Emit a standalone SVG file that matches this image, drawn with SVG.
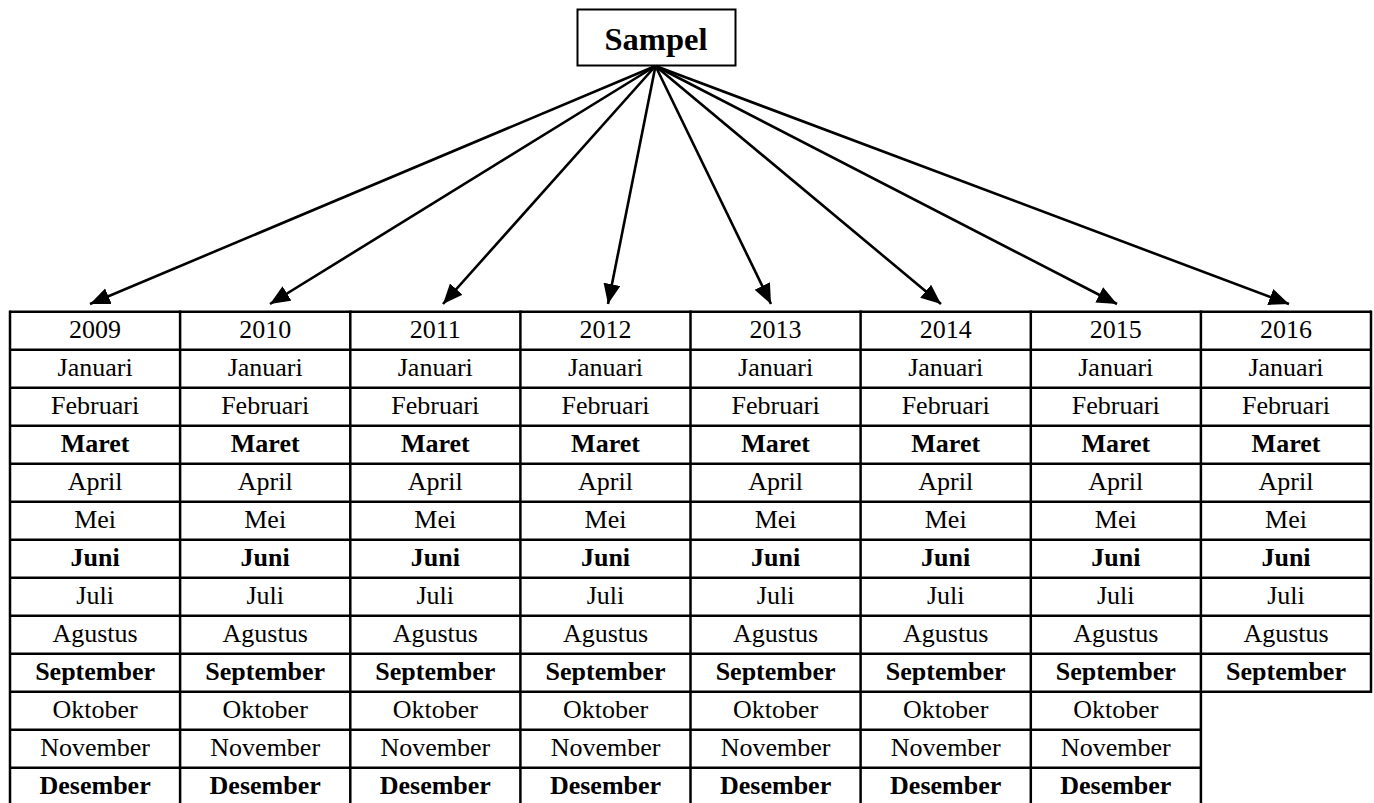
<svg xmlns="http://www.w3.org/2000/svg" width="1374" height="803" viewBox="0 0 1374 803">
<style>
.t{font-family:"Liberation Serif","Times New Roman",serif;font-size:26px;fill:#000;text-anchor:middle}
.b{font-weight:bold}
.ln{stroke:#000;stroke-width:2.5;fill:none}
.ar{stroke:#000;stroke-width:2.6;fill:none;marker-end:url(#ah)}
</style>
<defs>
<marker id="ah" markerUnits="userSpaceOnUse" markerWidth="22" markerHeight="18" refX="20" refY="8.5" orient="auto">
<path d="M0,0 L20,8.5 L0,17 z" fill="#000"/>
</marker>
</defs>
<rect width="1374" height="803" fill="#fff"/>
<g id="sampel">
<rect x="577.5" y="9.5" width="158" height="56" fill="#fff" stroke="#000" stroke-width="2"/>
<text class="t b" x="656" y="50" style="font-size:32.5px">Sampel</text>
</g>
<g id="connectors">
<line class="ar" x1="655.5" y1="66" x2="90" y2="304"/>
<line class="ar" x1="655.5" y1="66" x2="270" y2="304"/>
<line class="ar" x1="655.5" y1="66" x2="443" y2="304"/>
<line class="ar" x1="655.5" y1="66" x2="608" y2="304"/>
<line class="ar" x1="655.5" y1="66" x2="771" y2="304"/>
<line class="ar" x1="655.5" y1="66" x2="941" y2="304"/>
<line class="ar" x1="655.5" y1="66" x2="1117" y2="304"/>
<line class="ar" x1="655.5" y1="66" x2="1289" y2="304"/>
</g>
<g id="table-grid">
<path class="ln" d="M10,311.7H1371M10,349.7H1371M10,387.7H1371M10,425.7H1371M10,463.7H1371M10,501.7H1371M10,539.7H1371M10,577.7H1371M10,615.7H1371M10,653.7H1371M10,691.7H1371M10,729.7H1201M10,767.7H1201M10,805.7H1201"/>
<path class="ln" d="M10,310.5V806M180.1,310.5V806M350.3,310.5V806M520.4,310.5V806M690.5,310.5V806M860.6,310.5V806M1030.8,310.5V806M1200.9,310.5V806M1371,310.5V692.9"/>
</g>
<g id="col-2009">
<text class="t" x="95.1" y="338">2009</text><text class="t" x="95.1" y="376">Januari</text><text class="t" x="95.1" y="414">Februari</text><text class="t b" x="95.1" y="452">Maret</text><text class="t" x="95.1" y="490">April</text><text class="t" x="95.1" y="528">Mei</text><text class="t b" x="95.1" y="566">Juni</text><text class="t" x="95.1" y="604">Juli</text><text class="t" x="95.1" y="642">Agustus</text><text class="t b" x="95.1" y="680">September</text><text class="t" x="95.1" y="718">Oktober</text><text class="t" x="95.1" y="756">November</text><text class="t b" x="95.1" y="794">Desember</text>
</g>
<g id="col-2010">
<text class="t" x="265.2" y="338">2010</text><text class="t" x="265.2" y="376">Januari</text><text class="t" x="265.2" y="414">Februari</text><text class="t b" x="265.2" y="452">Maret</text><text class="t" x="265.2" y="490">April</text><text class="t" x="265.2" y="528">Mei</text><text class="t b" x="265.2" y="566">Juni</text><text class="t" x="265.2" y="604">Juli</text><text class="t" x="265.2" y="642">Agustus</text><text class="t b" x="265.2" y="680">September</text><text class="t" x="265.2" y="718">Oktober</text><text class="t" x="265.2" y="756">November</text><text class="t b" x="265.2" y="794">Desember</text>
</g>
<g id="col-2011">
<text class="t" x="435.3" y="338">2011</text><text class="t" x="435.3" y="376">Januari</text><text class="t" x="435.3" y="414">Februari</text><text class="t b" x="435.3" y="452">Maret</text><text class="t" x="435.3" y="490">April</text><text class="t" x="435.3" y="528">Mei</text><text class="t b" x="435.3" y="566">Juni</text><text class="t" x="435.3" y="604">Juli</text><text class="t" x="435.3" y="642">Agustus</text><text class="t b" x="435.3" y="680">September</text><text class="t" x="435.3" y="718">Oktober</text><text class="t" x="435.3" y="756">November</text><text class="t b" x="435.3" y="794">Desember</text>
</g>
<g id="col-2012">
<text class="t" x="605.5" y="338">2012</text><text class="t" x="605.5" y="376">Januari</text><text class="t" x="605.5" y="414">Februari</text><text class="t b" x="605.5" y="452">Maret</text><text class="t" x="605.5" y="490">April</text><text class="t" x="605.5" y="528">Mei</text><text class="t b" x="605.5" y="566">Juni</text><text class="t" x="605.5" y="604">Juli</text><text class="t" x="605.5" y="642">Agustus</text><text class="t b" x="605.5" y="680">September</text><text class="t" x="605.5" y="718">Oktober</text><text class="t" x="605.5" y="756">November</text><text class="t b" x="605.5" y="794">Desember</text>
</g>
<g id="col-2013">
<text class="t" x="775.6" y="338">2013</text><text class="t" x="775.6" y="376">Januari</text><text class="t" x="775.6" y="414">Februari</text><text class="t b" x="775.6" y="452">Maret</text><text class="t" x="775.6" y="490">April</text><text class="t" x="775.6" y="528">Mei</text><text class="t b" x="775.6" y="566">Juni</text><text class="t" x="775.6" y="604">Juli</text><text class="t" x="775.6" y="642">Agustus</text><text class="t b" x="775.6" y="680">September</text><text class="t" x="775.6" y="718">Oktober</text><text class="t" x="775.6" y="756">November</text><text class="t b" x="775.6" y="794">Desember</text>
</g>
<g id="col-2014">
<text class="t" x="945.7" y="338">2014</text><text class="t" x="945.7" y="376">Januari</text><text class="t" x="945.7" y="414">Februari</text><text class="t b" x="945.7" y="452">Maret</text><text class="t" x="945.7" y="490">April</text><text class="t" x="945.7" y="528">Mei</text><text class="t b" x="945.7" y="566">Juni</text><text class="t" x="945.7" y="604">Juli</text><text class="t" x="945.7" y="642">Agustus</text><text class="t b" x="945.7" y="680">September</text><text class="t" x="945.7" y="718">Oktober</text><text class="t" x="945.7" y="756">November</text><text class="t b" x="945.7" y="794">Desember</text>
</g>
<g id="col-2015">
<text class="t" x="1115.8" y="338">2015</text><text class="t" x="1115.8" y="376">Januari</text><text class="t" x="1115.8" y="414">Februari</text><text class="t b" x="1115.8" y="452">Maret</text><text class="t" x="1115.8" y="490">April</text><text class="t" x="1115.8" y="528">Mei</text><text class="t b" x="1115.8" y="566">Juni</text><text class="t" x="1115.8" y="604">Juli</text><text class="t" x="1115.8" y="642">Agustus</text><text class="t b" x="1115.8" y="680">September</text><text class="t" x="1115.8" y="718">Oktober</text><text class="t" x="1115.8" y="756">November</text><text class="t b" x="1115.8" y="794">Desember</text>
</g>
<g id="col-2016">
<text class="t" x="1286" y="338">2016</text><text class="t" x="1286" y="376">Januari</text><text class="t" x="1286" y="414">Februari</text><text class="t b" x="1286" y="452">Maret</text><text class="t" x="1286" y="490">April</text><text class="t" x="1286" y="528">Mei</text><text class="t b" x="1286" y="566">Juni</text><text class="t" x="1286" y="604">Juli</text><text class="t" x="1286" y="642">Agustus</text><text class="t b" x="1286" y="680">September</text>
</g>
</svg>
